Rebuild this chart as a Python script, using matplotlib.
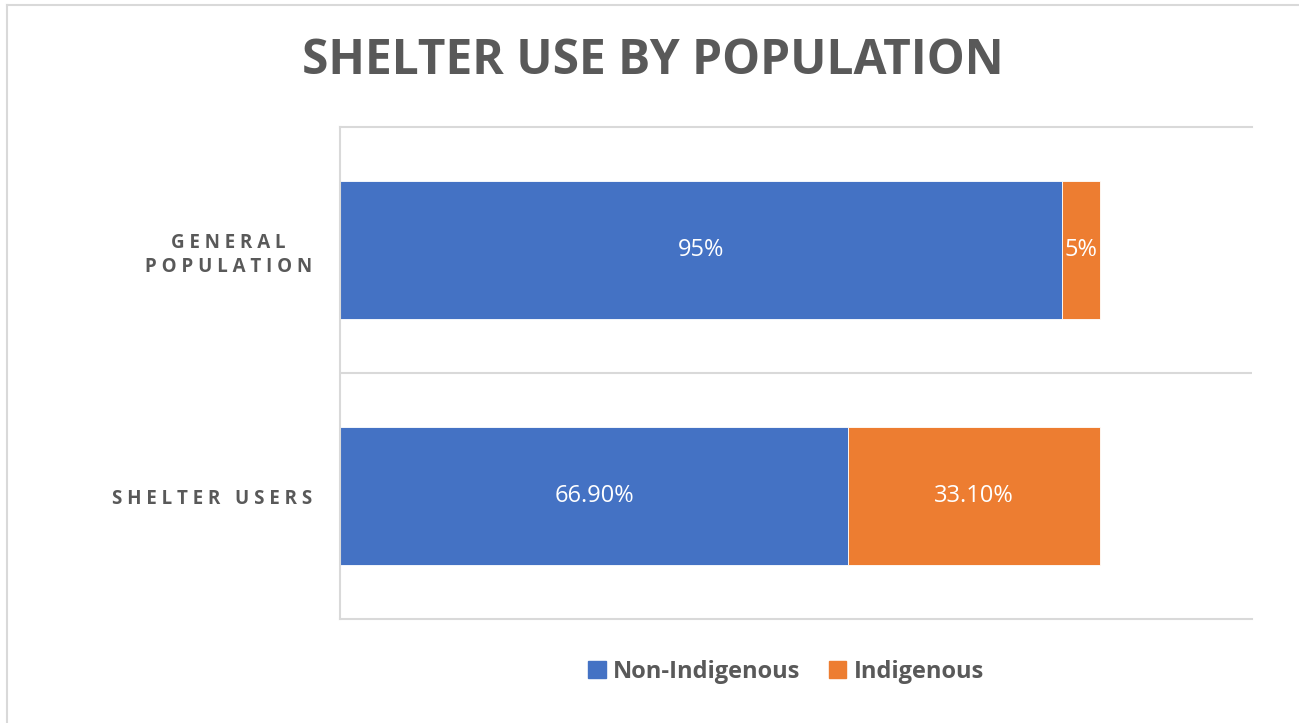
import numpy as np
import matplotlib.pyplot as plt
from matplotlib.lines import Line2D
from matplotlib.patches import Patch

plt.rcParams['font.family'] = ['Open Sans', 'DejaVu Sans']

# data
categories = ["S H E L T E R   U S E R S", "G E N E R A L\nP O P U L A T I O N"]
non_indigenous = [0.669, 0.95]
indigenous = [0.331, 0.05]
non_labels = ["66.90%", "95%"]
ind_labels = ["33.10%", "5%"]

blue = "#4472C4"
orange = "#ED7D31"
grey_text = "#595959"
grid_col = "#D9D9D9"

fig = plt.figure(figsize=(12.99, 7.23), dpi=100)
ax = fig.add_axes([340 / 1299, 1 - 619 / 723, 912 / 1299, 492 / 723])

y = np.arange(len(categories))
h = 0.557
b1 = ax.barh(y, non_indigenous, height=h, color=blue, edgecolor="white", linewidth=0.6, label="Non-Indigenous")
b2 = ax.barh(y, indigenous, left=non_indigenous, height=h, color=orange, edgecolor="white", linewidth=0.6, label="Indigenous")

ax.bar_label(b1, labels=non_labels, label_type="center", color="white", fontsize=17)
ax.bar_label(b2, labels=ind_labels, label_type="center", color="white", fontsize=17)

ax.set_xlim(0, 1.2)
ax.set_ylim(-0.5, 1.5)
ax.set_xticks([])
ax.set_yticks(y)
ax.set_yticklabels(categories, fontsize=13.5, fontweight="bold", color=grey_text,
                   multialignment="center", linespacing=1.3)
ax.tick_params(axis="y", length=0, pad=20)

ax.spines["right"].set_visible(False)
for s in ["left", "top", "bottom"]:
    ax.spines[s].set_color(grid_col)
    ax.spines[s].set_linewidth(1.5)
ax.axhline(0.5, color=grid_col, linewidth=1.5)

fig.text(653 / 1299, 1 - 62 / 723, "SHELTER USE BY POPULATION", ha="center", va="center",
         fontsize=34.5, fontweight="bold", color=grey_text)

handles = [Patch(color=blue), Patch(color=orange)]
fig.legend(handles, ["Non-Indigenous", "Indigenous"], loc="center", bbox_to_anchor=(786 / 1299, 1 - 672 / 723),
           ncol=2, frameon=False, handlelength=0.75, handleheight=0.75, handletextpad=0.3, columnspacing=1.2,
           prop={"size": 17, "weight": "bold"}, labelcolor=grey_text)

# outer chart border
fig.add_artist(Line2D([7 / 1299, 1], [1 - 5 / 723, 1 - 5 / 723], color=grid_col, linewidth=1.5))
fig.add_artist(Line2D([7 / 1299, 7 / 1299], [0, 1 - 5 / 723], color=grid_col, linewidth=1.5))

fig.savefig("out.png", dpi=100, facecolor="white")
